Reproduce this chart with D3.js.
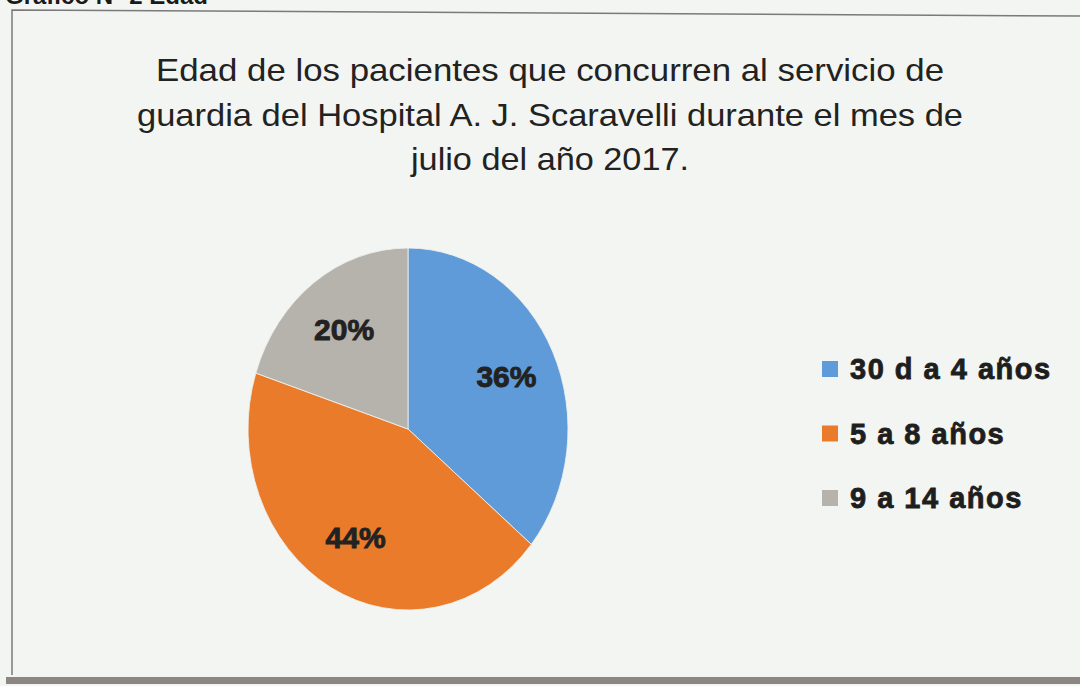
<!DOCTYPE html>
<html>
<head>
<meta charset="utf-8">
<script src="https://cdn.jsdelivr.net/npm/d3@7"></script>
<style>
  body { margin: 0; background: #f2f5f1; }
  svg { display: block; }
</style>
</head>
<body>
<svg id="chart" width="1080" height="686"></svg>
<script>
var categories = ["30 d a 4 años", "5 a 8 años", "9 a 14 años"];
var values = [36, 44, 20];
var colors = ["#5f9bd8", "#e97b2b", "#b5b3ac"];
var titleLines = [
  "Edad de los pacientes que concurren  al servicio de",
  "guardia del Hospital A. J. Scaravelli durante el mes de",
  "julio del año 2017."
];

var svg = d3.select("#chart"),
    width = +svg.attr("width"),
    height = +svg.attr("height");

svg.append("rect")
    .attr("width", width).attr("height", height)
    .attr("fill", "#f2f5f1");

// heading cut by the page edge
svg.append("text")
    .attr("x", 208).attr("y", 4)
    .attr("text-anchor", "end")
    .attr("font-family", "Liberation Sans, Arial, sans-serif")
    .attr("font-weight", "bold")
    .attr("font-size", 24)
    .attr("fill", "#1a1a1a")
    .text("Gráfico N° 2 Edad");

// chart frame
svg.append("path")
    .attr("d", "M12,675 L12,10 L1080,16")
    .attr("fill", "none")
    .attr("stroke", "#7a7a7a")
    .attr("stroke-width", 1.5);
svg.append("rect")
    .attr("x", 6).attr("y", 677)
    .attr("width", 1074).attr("height", 7)
    .attr("fill", "#8b8681");

// title
svg.append("g")
    .attr("font-family", "Liberation Sans, Arial, sans-serif")
    .attr("font-size", 30.5)
    .attr("fill", "#222")
    .attr("text-anchor", "middle")
  .selectAll("text")
  .data(titleLines)
  .enter().append("text")
    .attr("x", 550)
    .attr("y", function(d, i) { return 81 + i * 44.5; })
    .attr("textLength", function(d, i) { return [788, 826, 278][i]; })
    .attr("lengthAdjust", "spacingAndGlyphs")
    .text(function(d) { return d; });

// pie (scanned page is slightly stretched vertically)
var cx = 408, cy = 429, r = 160, sy = 181 / 160;

var pie = d3.pie().sort(null).value(function(d) { return d; });
var arc = d3.arc().innerRadius(0).outerRadius(r);
var labelArc = d3.arc().innerRadius(r * 0.68).outerRadius(r * 0.68);
var arcs = pie(values);

svg.append("g")
    .attr("transform", "translate(" + cx + "," + cy + ") scale(1," + sy + ")")
  .selectAll("path")
  .data(arcs)
  .enter().append("path")
    .attr("d", arc)
    .attr("fill", function(d, i) { return colors[i]; })
    .attr("stroke", "#eef1ee")
    .attr("stroke-width", 0.8);

svg.append("g")
    .attr("font-family", "Liberation Sans, Arial, sans-serif")
    .attr("font-weight", "bold")
    .attr("font-size", 30)
    .attr("fill", "#222")
    .attr("stroke", "#222")
    .attr("stroke-width", 0.9)
    .attr("text-anchor", "middle")
  .selectAll("text")
  .data(arcs)
  .enter().append("text")
    .attr("x", function(d) { return cx + labelArc.centroid(d)[0]; })
    .attr("y", function(d) { return cy + labelArc.centroid(d)[1] * sy; })
    .attr("dy", "0.36em")
    .text(function(d) { return d.data + "%"; });

// legend
var legend = svg.append("g")
    .attr("font-family", "Liberation Sans, Arial, sans-serif")
    .attr("font-weight", "bold")
    .attr("font-size", 29)
    .attr("fill", "#1e1e1e")
  .selectAll("g")
  .data(categories)
  .enter().append("g")
    .attr("transform", function(d, i) { return "translate(822," + (369 + i * 64.5) + ")"; });

legend.append("rect")
    .attr("y", -8)
    .attr("width", 16).attr("height", 16)
    .attr("fill", function(d, i) { return colors[i]; });

legend.append("text")
    .attr("x", 28)
    .attr("dy", "0.36em")
    .attr("letter-spacing", 1.5)
    .attr("stroke", "#1e1e1e")
    .attr("stroke-width", 0.8)
    .text(function(d) { return d; });
</script>
</body>
</html>
